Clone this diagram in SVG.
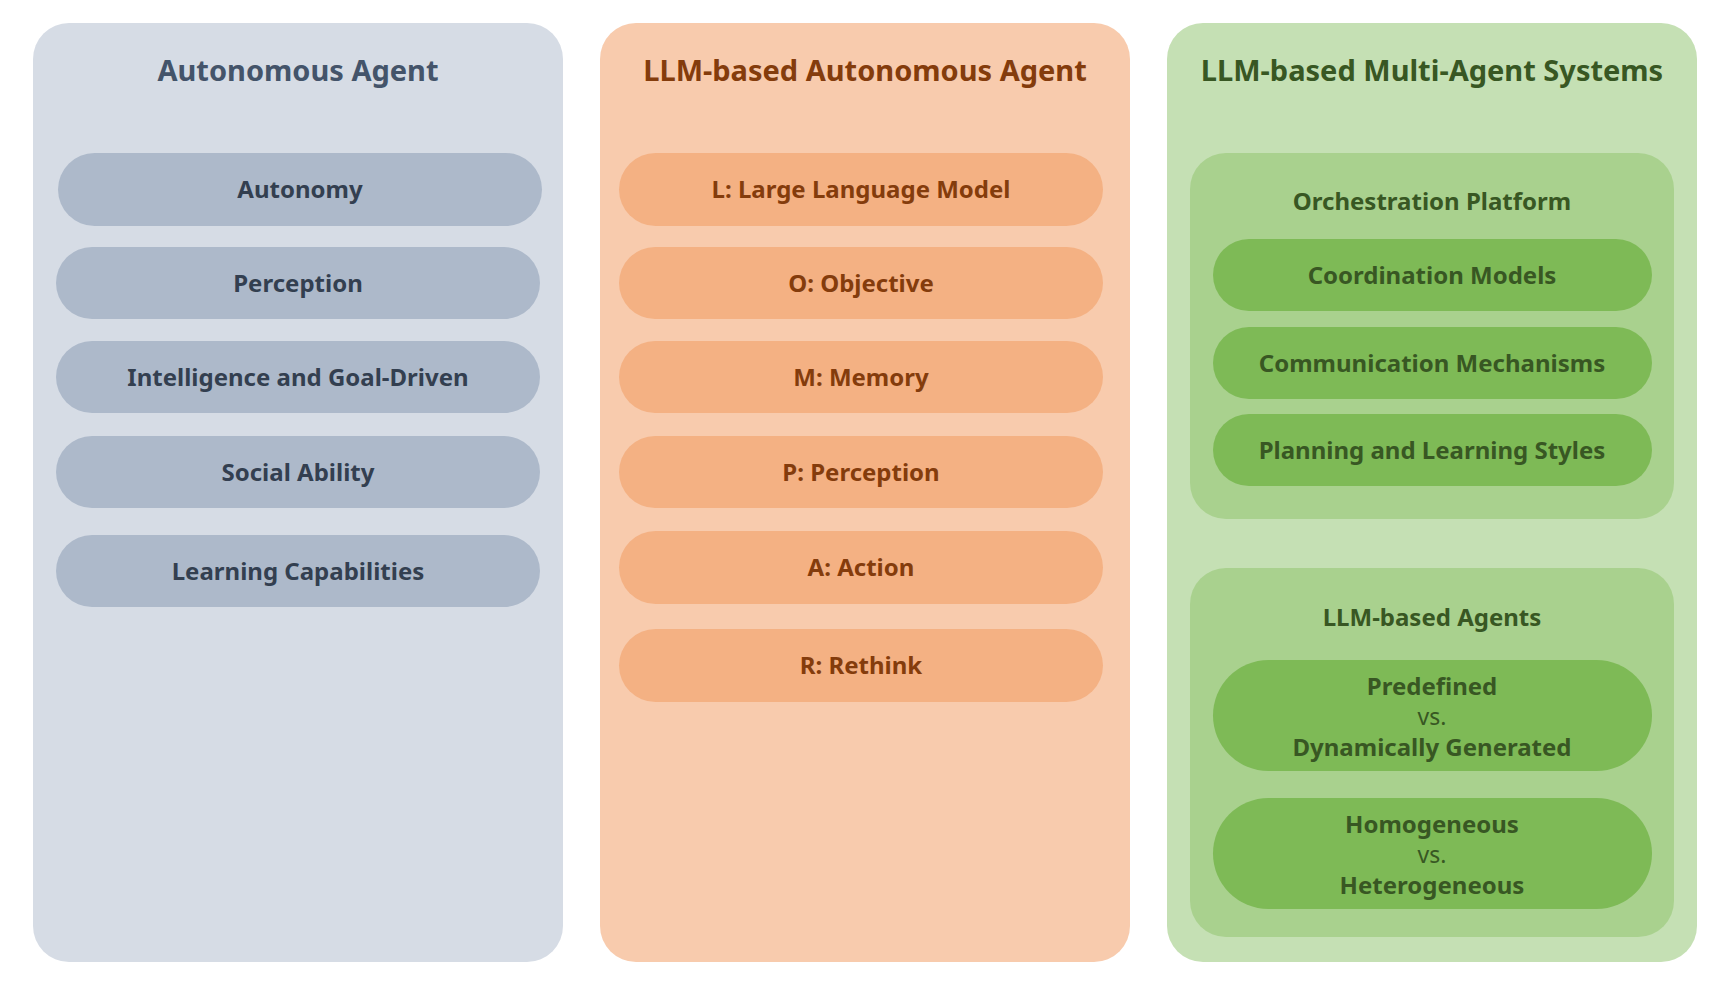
<svg xmlns="http://www.w3.org/2000/svg" width="1732" height="990" viewBox="0 0 1732 990">
<style>
text{font-family:"Noto Sans","Open Sans","Liberation Sans",sans-serif;text-anchor:middle;font-weight:700}
.title{font-size:29px}
.item{font-size:24px}
.sub{font-size:24px}
.vs{font-size:23px;font-weight:400}
.p1{fill:#D6DCE5}.p1i{fill:#ADB9CA}.t1{fill:#44546A}.t1i{fill:#333F50}
.p2{fill:#F8CBAD}.p2i{fill:#F4B183}.t2{fill:#843C0C}
.p3{fill:#C5E0B4}.p3b{fill:#A9D18E}.p3i{fill:#7EBA56}.t3{fill:#385723}
</style>
<rect width="1732" height="990" fill="#FFFFFF"/>

<g id="panel-autonomous-agent">
<rect class="p1" x="33" y="23" width="530" height="939" rx="36"/>
<text class="title t1" x="298" y="81">Autonomous Agent</text>
</g>
<g id="aa-autonomy"><rect class="p1i" x="58" y="153" width="484" height="73" rx="36.5"/><text class="item t1i" x="300" y="198">Autonomy</text></g>
<g id="aa-perception"><rect class="p1i" x="56" y="247" width="484" height="72" rx="36"/><text class="item t1i" x="298" y="292">Perception</text></g>
<g id="aa-intelligence"><rect class="p1i" x="56" y="341" width="484" height="72" rx="36"/><text class="item t1i" x="298" y="386">Intelligence and Goal-Driven</text></g>
<g id="aa-social"><rect class="p1i" x="56" y="436" width="484" height="72" rx="36"/><text class="item t1i" x="298" y="481">Social Ability</text></g>
<g id="aa-learning"><rect class="p1i" x="56" y="535" width="484" height="72" rx="36"/><text class="item t1i" x="298" y="580">Learning Capabilities</text></g>

<g id="panel-llm-agent">
<rect class="p2" x="600" y="23" width="530" height="939" rx="36"/>
<text class="title t2" x="865" y="81">LLM-based Autonomous Agent</text>
</g>
<g id="la-l"><rect class="p2i" x="619" y="153" width="484" height="73" rx="36.5"/><text class="item t2" x="861" y="198">L: Large Language Model</text></g>
<g id="la-o"><rect class="p2i" x="619" y="247" width="484" height="72" rx="36"/><text class="item t2" x="861" y="292">O: Objective</text></g>
<g id="la-m"><rect class="p2i" x="619" y="341" width="484" height="72" rx="36"/><text class="item t2" x="861" y="386">M: Memory</text></g>
<g id="la-p"><rect class="p2i" x="619" y="436" width="484" height="72" rx="36"/><text class="item t2" x="861" y="481">P: Perception</text></g>
<g id="la-a"><rect class="p2i" x="619" y="531" width="484" height="73" rx="36.5"/><text class="item t2" x="861" y="576">A: Action</text></g>
<g id="la-r"><rect class="p2i" x="619" y="629" width="484" height="73" rx="36.5"/><text class="item t2" x="861" y="674">R: Rethink</text></g>

<g id="panel-mas">
<rect class="p3" x="1167" y="23" width="530" height="939" rx="36"/>
<text class="title t3" x="1432" y="81">LLM-based Multi-Agent Systems</text>
</g>
<g id="mas-orchestration">
<rect class="p3b" x="1190" y="153" width="484" height="366" rx="36"/>
<text class="sub t3" x="1432" y="210">Orchestration Platform</text>
</g>
<g id="mas-coordination"><rect class="p3i" x="1213" y="239" width="439" height="72" rx="36"/><text class="item t3" x="1432" y="284">Coordination Models</text></g>
<g id="mas-communication"><rect class="p3i" x="1213" y="327" width="439" height="72" rx="36"/><text class="item t3" x="1432" y="372">Communication Mechanisms</text></g>
<g id="mas-planning"><rect class="p3i" x="1213" y="414" width="439" height="72" rx="36"/><text class="item t3" x="1432" y="459">Planning and Learning Styles</text></g>

<g id="mas-agents">
<rect class="p3b" x="1190" y="568" width="484" height="369" rx="36"/>
<text class="sub t3" x="1432" y="626">LLM-based Agents</text>
</g>
<g id="mas-predefined"><rect class="p3i" x="1213" y="660" width="439" height="111" rx="55.5"/>
<text class="item t3" x="1432" y="695">Predefined</text>
<text class="vs t3" x="1432" y="725">vs.</text>
<text class="item t3" x="1432" y="756">Dynamically Generated</text></g>
<g id="mas-homogeneous"><rect class="p3i" x="1213" y="798" width="439" height="111" rx="55.5"/>
<text class="item t3" x="1432" y="833">Homogeneous</text>
<text class="vs t3" x="1432" y="863">vs.</text>
<text class="item t3" x="1432" y="894">Heterogeneous</text></g>
</svg>
